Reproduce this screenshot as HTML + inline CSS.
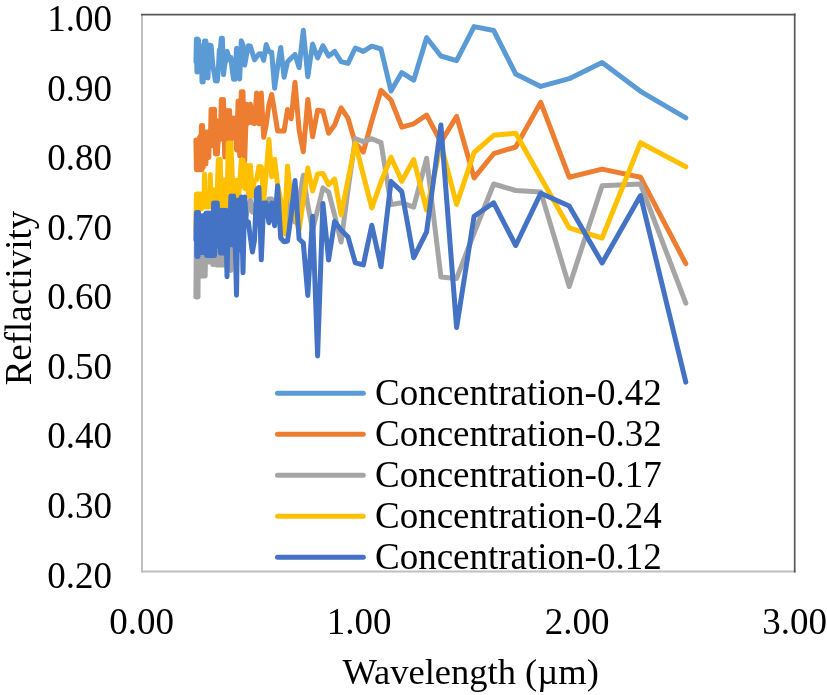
<!DOCTYPE html>
<html><head><meta charset="utf-8">
<style>
html,body{margin:0;padding:0;background:#fff;}
svg{display:block;will-change:transform;}
text{font-family:"Liberation Serif",serif;fill:#000;}
</style></head>
<body>
<svg width="827" height="695" viewBox="0 0 827 695">
<rect x="0" y="0" width="827" height="695" fill="#fff"/>
<!-- plot frame -->
<line x1="142" y1="14" x2="142" y2="572.4" stroke="#bfbfbf" stroke-width="2"/>
<line x1="141" y1="571.4" x2="795.5" y2="571.4" stroke="#bfbfbf" stroke-width="2"/>
<line x1="141" y1="14.5" x2="795.5" y2="14.5" stroke="#595959" stroke-width="1.75"/>
<line x1="794.7" y1="13.6" x2="794.7" y2="572.4" stroke="#595959" stroke-width="1.75"/>
<!-- y labels -->
<g font-size="37" text-anchor="end">
<text x="112" y="31">1.00</text>
<text x="112" y="100.6">0.90</text>
<text x="112" y="170.2">0.80</text>
<text x="112" y="239.7">0.70</text>
<text x="112" y="309.3">0.60</text>
<text x="112" y="378.9">0.50</text>
<text x="112" y="448.4">0.40</text>
<text x="112" y="518">0.30</text>
<text x="112" y="587.6">0.20</text>
</g>
<g font-size="37" text-anchor="middle">
<text x="141.5" y="634">0.00</text>
<text x="359.2" y="634">1.00</text>
<text x="577" y="634">2.00</text>
<text x="794.7" y="634">3.00</text>
<text x="470.7" y="684.3" font-size="36.5">Wavelength (µm)</text>
</g>
<text font-size="37" text-anchor="middle" transform="translate(31,298) rotate(-90)">Reflactivity</text>
<!-- legend -->
<g stroke-width="5" stroke-linecap="round">
<line x1="277.5" y1="393.2" x2="363.3" y2="393.2" stroke="#5b9bd5"/>
<line x1="277.5" y1="434.2" x2="363.3" y2="434.2" stroke="#ed7d31"/>
<line x1="277.5" y1="475.2" x2="363.3" y2="475.2" stroke="#a5a5a5"/>
<line x1="277.5" y1="516.2" x2="363.3" y2="516.2" stroke="#ffc000"/>
<line x1="277.5" y1="557.2" x2="363.3" y2="557.2" stroke="#4472c4"/>
</g>
<g font-size="37">
<text x="375" y="405">Concentration-0.42</text>
<text x="375" y="446">Concentration-0.32</text>
<text x="375" y="487">Concentration-0.17</text>
<text x="375" y="528">Concentration-0.24</text>
<text x="375" y="569">Concentration-0.12</text>
</g>
<!-- SERIES -->
<g fill="none" stroke-width="5" stroke-linejoin="round" stroke-linecap="round">
<polyline stroke="#5b9bd5" points="685.8,117.9 640.5,91.3 602.1,62.5 569.2,78.7 540.7,86.4 515.7,74.0 493.7,30.5 474.1,26.6 456.6,60.6 440.9,56.0 426.6,37.7 413.7,80.2 401.8,72.6 391.0,91.0 381.0,49.0 371.8,46.2 363.3,51.4 355.3,48.0 348.0,63.4 341.1,61.6 334.6,51.4 328.6,56.0 322.9,45.8 317.6,58.0 312.6,44.1 307.8,76.7 303.3,30.2 299.1,67.6 295.0,54.5 291.2,58.0 287.5,62.0 284.1,77.2 280.7,47.4 277.6,67.0 274.6,88.2 271.7,52.2 268.9,51.7 266.2,44.6 263.7,60.4 261.3,53.8 258.9,54.0 256.6,57.0 254.5,59.8 252.4,53.0 250.4,46.2 248.4,45.8 246.5,55.0 244.7,65.1 243.0,45.0 241.3,40.9 239.7,79.0 238.1,55.0 236.5,48.4 235.1,79.3 233.6,79.3 232.2,70.0 230.9,57.5 229.6,60.0 228.3,55.0 227.0,51.4 225.8,60.0 224.7,65.0 223.5,74.6 222.4,38.3 221.3,38.3 220.3,50.0 219.3,50.0 218.3,70.0 217.3,81.0 216.3,81.0 215.4,81.0 214.5,75.0 213.6,70.0 212.8,65.0 211.9,55.0 211.1,45.4 210.3,60.0 209.5,45.0 208.8,55.0 208.0,78.0 207.3,45.0 206.6,60.0 205.9,41.0 205.2,78.0 204.5,41.0 203.9,50.0 203.2,82.0 202.6,60.0 202.0,82.0 201.4,46.0 200.8,72.0 200.2,60.0 199.6,46.0 199.1,70.0 198.5,40.0 198.0,72.0 197.5,39.0 196.9,72.0 196.4,39.0 195.9,62.0"/>
<polyline stroke="#ed7d31" points="685.8,263.7 640.5,177.2 602.1,169.1 569.2,177.2 540.7,102.4 515.7,147.0 493.7,153.7 474.1,177.9 456.6,116.4 440.9,142.2 426.6,115.0 413.7,123.8 401.8,127.2 391.0,100.0 381.0,90.4 371.8,121.0 363.3,152.0 355.3,143.3 348.0,118.1 341.1,108.0 334.6,125.0 328.6,133.2 322.9,111.0 317.6,110.2 312.6,136.8 307.8,99.4 303.3,151.7 299.1,130.0 295.0,82.3 291.2,118.8 287.5,109.6 284.1,131.0 280.7,130.9 277.6,130.9 274.6,112.0 271.7,94.5 268.9,105.0 266.2,125.0 263.7,137.3 261.3,93.0 258.9,123.7 256.6,93.0 254.5,123.7 252.4,123.0 250.4,104.3 248.4,123.0 246.5,104.3 244.7,161.0 243.0,91.7 241.3,91.7 239.7,156.0 238.1,101.0 236.5,150.0 235.1,118.0 233.6,136.7 232.2,118.0 230.9,140.0 229.6,110.4 228.3,140.0 227.0,110.4 225.8,110.4 224.7,157.0 223.5,99.6 222.4,139.0 221.3,99.6 220.3,139.0 219.3,120.4 218.3,139.0 217.3,154.0 216.3,120.4 215.4,154.0 214.5,109.3 213.6,145.5 212.8,109.3 211.9,145.5 211.1,109.3 210.3,145.5 209.5,132.0 208.8,157.4 208.0,132.0 207.3,157.5 206.6,132.0 205.9,164.0 205.2,132.0 204.5,164.0 203.9,132.0 203.2,167.5 202.6,125.5 202.0,169.8 201.4,125.5 200.8,169.8 200.2,136.0 199.6,169.8 199.1,138.0 198.5,169.8 198.0,140.0 197.5,169.8 196.9,141.0 196.4,169.8 195.9,140.0"/>
<polyline stroke="#a5a5a5" points="685.8,303.2 640.5,184.1 602.1,185.7 569.2,286.5 540.7,191.9 515.7,190.5 493.7,184.0 474.1,233.0 456.6,278.4 440.9,277.0 426.6,158.3 413.7,207.2 401.8,202.8 391.0,204.6 381.0,142.6 371.8,138.7 363.3,141.7 355.3,138.7 348.0,190.0 341.1,242.1 334.6,215.0 328.6,192.0 322.9,188.0 317.6,210.0 312.6,230.0 307.8,205.0 303.3,175.3 299.1,200.0 295.0,222.0 291.2,188.0 287.5,223.0 284.1,225.0 280.7,220.0 277.6,215.0 274.6,210.0 271.7,199.0 268.9,199.0 266.2,205.0 263.7,212.0 261.3,215.0 258.9,215.0 256.6,225.0 254.5,205.0 252.4,212.0 250.4,200.0 248.4,205.0 246.5,215.0 244.7,205.0 243.0,240.0 241.3,205.0 239.7,240.0 238.1,205.0 236.5,240.0 235.1,210.0 233.6,250.0 232.2,230.0 230.9,270.5 229.6,250.0 228.3,230.0 227.0,250.0 225.8,230.0 224.7,265.0 223.5,230.0 222.4,265.0 221.3,230.0 220.3,265.0 219.3,230.0 218.3,265.0 217.3,230.0 216.3,265.0 215.4,230.0 214.5,264.6 213.6,230.0 212.8,264.6 211.9,230.0 211.1,262.0 210.3,230.0 209.5,262.0 208.8,230.0 208.0,262.0 207.3,230.0 206.6,262.0 205.9,230.0 205.2,276.0 204.5,230.0 203.9,276.0 203.2,230.0 202.6,276.0 202.0,230.0 201.4,276.0 200.8,230.0 200.2,276.0 199.6,230.0 199.1,276.0 198.5,230.0 198.0,297.0 197.5,230.0 196.9,297.0 196.4,230.0 195.9,297.0"/>
<polyline stroke="#ffc000" points="685.8,166.8 640.5,142.7 602.1,238.0 569.2,227.8 540.7,177.4 515.7,133.2 493.7,135.3 474.1,152.5 456.6,204.4 440.9,144.5 426.6,210.1 413.7,159.5 401.8,181.3 391.0,157.2 381.0,182.0 371.8,207.8 363.3,175.0 355.3,143.3 348.0,180.0 341.1,214.7 334.6,179.0 328.6,184.7 322.9,173.5 317.6,174.0 312.6,190.9 307.8,168.0 303.3,200.0 299.1,230.0 295.0,215.0 291.2,200.0 287.5,166.0 284.1,234.0 280.7,200.0 277.6,185.0 274.6,159.3 271.7,176.8 268.9,139.6 266.2,173.0 263.7,200.0 261.3,166.7 258.9,166.5 256.6,180.0 254.5,180.0 252.4,196.0 250.4,165.3 248.4,196.0 246.5,165.3 244.7,188.4 243.0,160.2 241.3,160.2 239.7,185.0 238.1,200.0 236.5,180.3 235.1,190.0 233.6,205.0 232.2,175.0 230.9,143.0 229.6,205.0 228.3,143.0 227.0,207.0 225.8,207.0 224.7,180.0 223.5,207.0 222.4,180.0 221.3,207.0 220.3,159.6 219.3,195.0 218.3,159.6 217.3,190.0 216.3,207.0 215.4,190.0 214.5,207.0 213.6,190.0 212.8,207.0 211.9,190.0 211.1,207.0 210.3,174.6 209.5,207.0 208.8,195.0 208.0,207.0 207.3,195.0 206.6,207.0 205.9,195.0 205.2,207.0 204.5,174.0 203.9,207.0 203.2,194.0 202.6,207.0 202.0,194.0 201.4,209.0 200.8,194.0 200.2,209.0 199.6,194.0 199.1,209.0 198.5,194.0 198.0,209.0 197.5,194.0 196.9,209.0 196.4,194.0 195.9,231.0"/>
<polyline stroke="#4472c4" points="685.8,382.1 640.5,195.6 602.1,263.0 569.2,206.0 540.7,193.3 515.7,245.5 493.7,202.8 474.1,216.2 456.6,327.6 440.9,125.0 426.6,231.8 413.7,257.7 401.8,191.6 391.0,181.5 381.0,266.7 371.8,225.3 363.3,264.9 355.3,262.8 348.0,237.0 341.1,230.0 334.6,221.4 328.6,260.0 322.9,203.4 317.6,356.0 312.6,216.3 307.8,295.4 303.3,243.0 299.1,239.0 295.0,180.4 291.2,215.0 287.5,241.0 284.1,241.7 280.7,238.0 277.6,185.7 274.6,225.7 271.7,203.0 268.9,222.7 266.2,203.0 263.7,203.0 261.3,259.8 258.9,187.4 256.6,190.0 254.5,240.0 252.4,252.0 250.4,238.0 248.4,222.0 246.5,225.0 244.7,197.0 243.0,272.7 241.3,197.0 239.7,250.0 238.1,200.0 236.5,295.2 235.1,240.0 233.6,196.0 232.2,245.0 230.9,196.0 229.6,240.0 228.3,216.8 227.0,276.7 225.8,210.3 224.7,253.0 223.5,210.3 222.4,253.0 221.3,210.3 220.3,253.0 219.3,215.0 218.3,246.0 217.3,203.1 216.3,246.0 215.4,203.1 214.5,255.4 213.6,203.1 212.8,255.4 211.9,213.0 211.1,255.4 210.3,213.0 209.5,255.4 208.8,213.0 208.0,255.4 207.3,213.0 206.6,255.4 205.9,213.0 205.2,240.0 204.5,215.8 203.9,252.5 203.2,215.8 202.6,252.5 202.0,215.8 201.4,252.5 200.8,215.8 200.2,252.5 199.6,215.8 199.1,252.5 198.5,212.5 198.0,256.5 197.5,212.5 196.9,256.5 196.4,212.5 195.9,240.0"/>
</g>
</svg>
</body></html>
